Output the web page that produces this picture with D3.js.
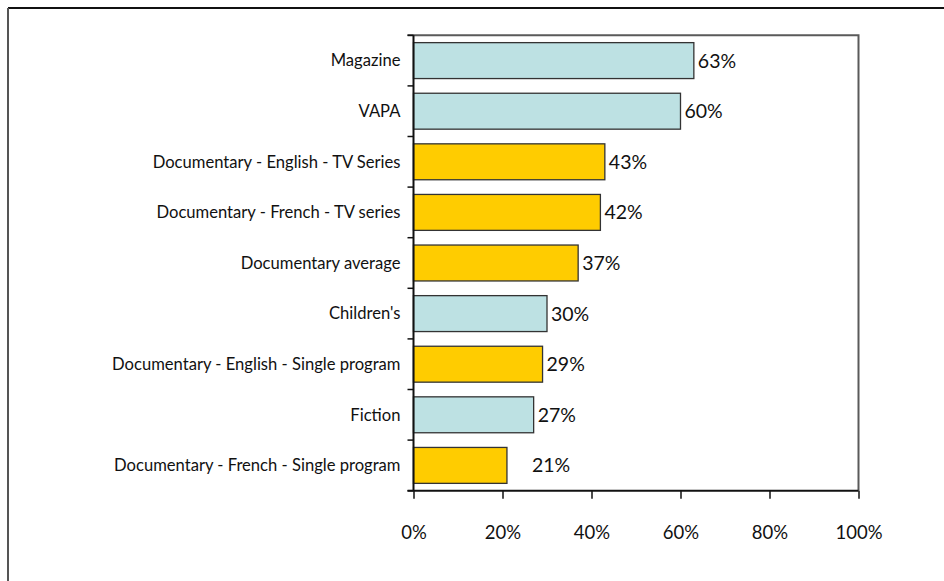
<!DOCTYPE html>
<html>
<head>
<meta charset="utf-8">
<script src="https://cdn.jsdelivr.net/npm/d3@7"></script>
<style>
  body { margin: 0; background: #fff; }
  svg text { font-family: "Gill Sans", "Lato", sans-serif; fill: #111; }
</style>
</head>
<body>
<div id="chart"></div>
<script>
// chart values, top to bottom
const categories = [
  "Magazine",
  "VAPA",
  "Documentary - English - TV Series",
  "Documentary - French - TV series",
  "Documentary average",
  "Children's",
  "Documentary - English - Single program",
  "Fiction",
  "Documentary - French - Single program"
];
const values = [0.63, 0.60, 0.43, 0.42, 0.37, 0.30, 0.29, 0.27, 0.21];
const isDocumentary = [false, false, true, true, true, false, true, false, true];
const xTicks = [0, 0.2, 0.4, 0.6, 0.8, 1.0];

const width = 944, height = 581;
const plot = {left: 413.5, right: 858.5, top: 35.3, bottom: 490.7};

const svg = d3.select("#chart").append("svg")
  .attr("width", width)
  .attr("height", height);

// outer frame (runs off the right and bottom edges)
svg.append("line")
  .attr("x1", 8).attr("x2", width).attr("y1", 8).attr("y2", 8)
  .attr("stroke", "#111").attr("stroke-width", 2);
svg.append("line")
  .attr("x1", 8).attr("x2", 8).attr("y1", 8).attr("y2", height)
  .attr("stroke", "#555").attr("stroke-width", 2);

const data = categories.map((c, i) => ({cat: c, v: values[i], doc: isDocumentary[i]}));

const x = d3.scaleLinear().domain([0, 1]).range([plot.left, plot.right]);
const y = d3.scaleBand()
  .domain(categories)
  .range([plot.top, plot.bottom])
  .paddingInner(0.29)
  .paddingOuter(0.145);

// plot box: top and right in grey
svg.append("path")
  .attr("d", `M${plot.left - 6},${plot.top}H${plot.right}V${plot.bottom}`)
  .attr("fill", "none")
  .attr("stroke", "#5a5a5a")
  .attr("stroke-width", 2);

// bars
svg.append("g").selectAll("rect")
  .data(data)
  .join("rect")
  .attr("x", x(0))
  .attr("y", d => y(d.cat))
  .attr("width", d => x(d.v) - x(0))
  .attr("height", y.bandwidth())
  .attr("fill", d => d.doc ? "#ffcc00" : "#bde1e3")
  .attr("stroke", "#333")
  .attr("stroke-width", 1.3);

// value labels (last one was nudged right in the original)
const labelNudge = {"Documentary - French - Single program": 21};
svg.append("g").selectAll("text")
  .data(data)
  .join("text")
  .attr("x", d => x(d.v) + 4 + (labelNudge[d.cat] || 0))
  .attr("y", d => y(d.cat) + y.bandwidth() / 2)
  .attr("dy", "0.36em")
  .style("font-size", "19.5px")
  .text(d => d3.format(".0%")(d.v));

// y axis: tick marks at category boundaries
const bounds = d3.range(categories.length + 1).map(i => plot.top + i * y.step());
const yAxisG = svg.append("g");
yAxisG.append("line")
  .attr("x1", plot.left).attr("x2", plot.left)
  .attr("y1", plot.top).attr("y2", plot.bottom)
  .attr("stroke", "#111").attr("stroke-width", 2);
yAxisG.selectAll(".tk")
  .data(bounds)
  .join("line")
  .attr("class", "tk")
  .attr("x1", plot.left - 6).attr("x2", plot.left)
  .attr("y1", d => d).attr("y2", d => d)
  .attr("stroke", "#111").attr("stroke-width", 1.5);
yAxisG.selectAll("text")
  .data(categories)
  .join("text")
  .attr("x", plot.left - 13)
  .attr("y", d => y(d) + y.bandwidth() / 2)
  .attr("dy", "0.35em")
  .attr("text-anchor", "end")
  .style("font-size", "16.6px")
  .text(d => d);

// x axis
const xAxis = d3.axisBottom(x)
  .tickValues(xTicks)
  .tickSize(8)
  .tickPadding(27)
  .tickFormat(d3.format(".0%"));

const xAxisG = svg.append("g")
  .attr("transform", `translate(0, ${plot.bottom})`)
  .call(xAxis);
xAxisG.select(".domain")
  .attr("d", `M${plot.left - 6},0H${plot.right}`)
  .attr("stroke", "#111")
  .attr("stroke-width", 2);
xAxisG.selectAll(".tick line").attr("stroke", "#111").attr("stroke-width", 1.5);
xAxisG.selectAll(".tick text")
  .style("font-size", "18.5px")
  .style("font-family", "\"Gill Sans\", \"Lato\", sans-serif")
  .attr("fill", "#111");
</script>
</body>
</html>
